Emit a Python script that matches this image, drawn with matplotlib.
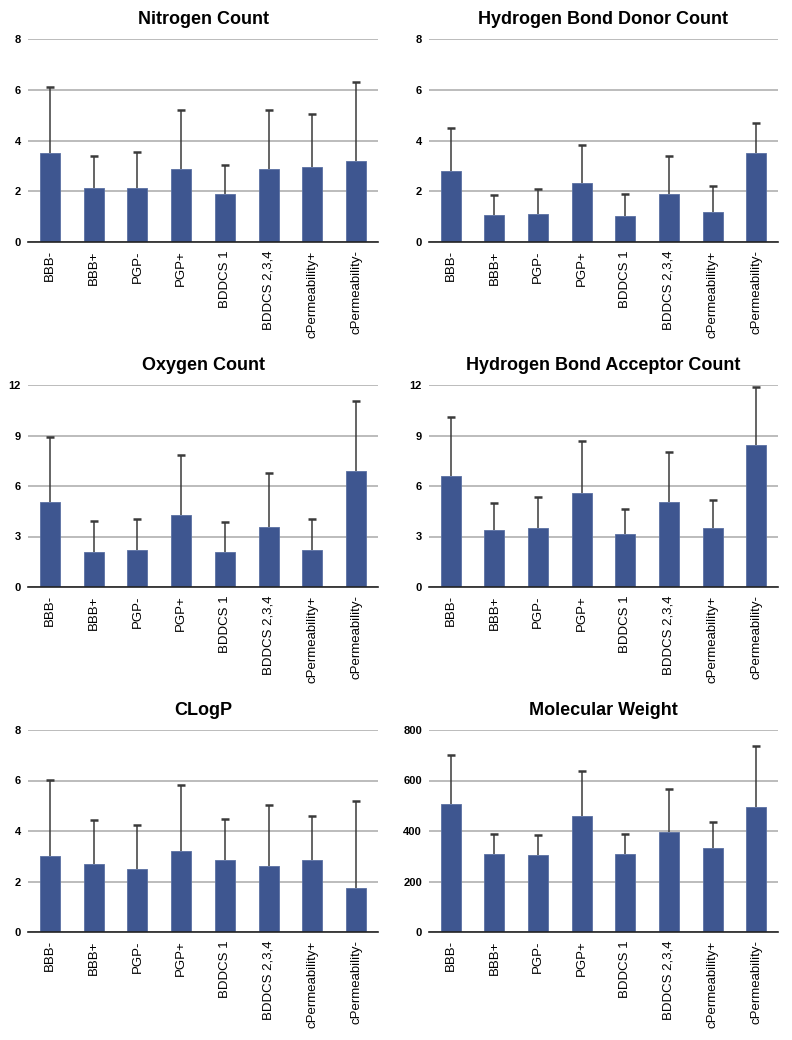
import numpy as np
import matplotlib.pyplot as plt

plt.rcParams['font.family'] = ['Liberation Sans', 'DejaVu Sans']

groups = ['BBB-', 'BBB+', 'PGP-', 'PGP+', 'BDDCS 1', 'BDDCS 2,3,4',
          'cPermeability+', 'cPermeability-']

# mean values and top of the (upper only) error bars
nitrogen_mean = [3.49, 2.13, 2.13, 2.86, 1.89, 2.86, 2.96, 3.18]
nitrogen_top = [6.11, 3.38, 3.55, 5.19, 3.05, 5.19, 5.03, 6.30]

hbd_mean = [2.79, 1.07, 1.11, 2.34, 1.02, 1.91, 1.19, 3.52]
hbd_top = [4.49, 1.87, 2.07, 3.84, 1.90, 3.38, 2.22, 4.69]

oxygen_mean = [5.07, 2.06, 2.20, 4.28, 2.06, 3.54, 2.20, 6.91]
oxygen_top = [8.93, 3.90, 4.06, 7.82, 3.84, 6.77, 4.02, 11.03]

hba_mean = [6.60, 3.37, 3.49, 5.60, 3.17, 5.04, 3.49, 8.41]
hba_top = [10.11, 4.98, 5.34, 8.69, 4.66, 8.01, 5.14, 11.86]

clogp_mean = [3.02, 2.69, 2.48, 3.21, 2.85, 2.60, 2.85, 1.74]
clogp_top = [6.02, 4.44, 4.23, 5.82, 4.48, 5.03, 4.58, 5.18]

mw_mean = [505, 310, 306, 461, 310, 397, 334, 497]
mw_top = [702, 387, 385, 638, 387, 565, 436, 738]

panels = [
    ('Nitrogen Count', nitrogen_mean, nitrogen_top, [0, 2, 4, 6, 8]),
    ('Hydrogen Bond Donor Count', hbd_mean, hbd_top, [0, 2, 4, 6, 8]),
    ('Oxygen Count', oxygen_mean, oxygen_top, [0, 3, 6, 9, 12]),
    ('Hydrogen Bond Acceptor Count', hba_mean, hba_top, [0, 3, 6, 9, 12]),
    ('CLogP', clogp_mean, clogp_top, [0, 2, 4, 6, 8]),
    ('Molecular Weight', mw_mean, mw_top, [0, 200, 400, 600, 800]),
]

W, H = 792, 1040
fig = plt.figure(figsize=(W / 100, H / 100), dpi=100)

cols = [(28, 378), (429, 778)]
rows = [(39, 242), (385, 587), (730, 932)]

bar_color = '#3e5690'

for i, (title, mean, top, ticks) in enumerate(panels):
    x0, x1 = cols[i % 2]
    y0, y1 = rows[i // 2]
    ax = fig.add_axes([x0 / W, 1 - y1 / H, (x1 - x0) / W, (y1 - y0) / H])

    x = np.arange(len(groups))
    ax.bar(x, mean, width=0.46, color=bar_color, edgecolor='#5a70a3',
           linewidth=0.6, zorder=3)
    # upper error bars only: stem from the bar top, cap at the end
    ax.vlines(x, mean, top, color='#3a3a3a', linewidth=1.1, zorder=2)
    ax.plot(x, top, linestyle='none', marker='_', markersize=6,
            markeredgewidth=1.8, color='#3a3a3a', zorder=2)

    ax.set_xlim(-0.5, len(groups) - 0.5)
    ax.set_ylim(ticks[0], ticks[-1])
    ax.set_yticks(ticks)
    ax.set_yticklabels([str(t) for t in ticks], fontsize=8, fontweight='bold')
    ax.set_xticks(x)
    ax.set_xticklabels(groups, rotation=90, fontsize=9.5)
    ax.tick_params(length=0, pad=5)
    ax.tick_params(axis='x', pad=6)

    ax.yaxis.grid(True, color='#aaaaaa', linewidth=1.1, zorder=0)
    ax.set_axisbelow(True)
    for side in ['top', 'right', 'left']:
        ax.spines[side].set_visible(False)
    ax.spines['bottom'].set_color('#222222')
    ax.spines['bottom'].set_linewidth(1.2)
    ax.spines['bottom'].set_zorder(4)

    ax.set_title(title, fontsize=13, fontweight='bold', pad=11)

fig.savefig('out.png', dpi=100)
